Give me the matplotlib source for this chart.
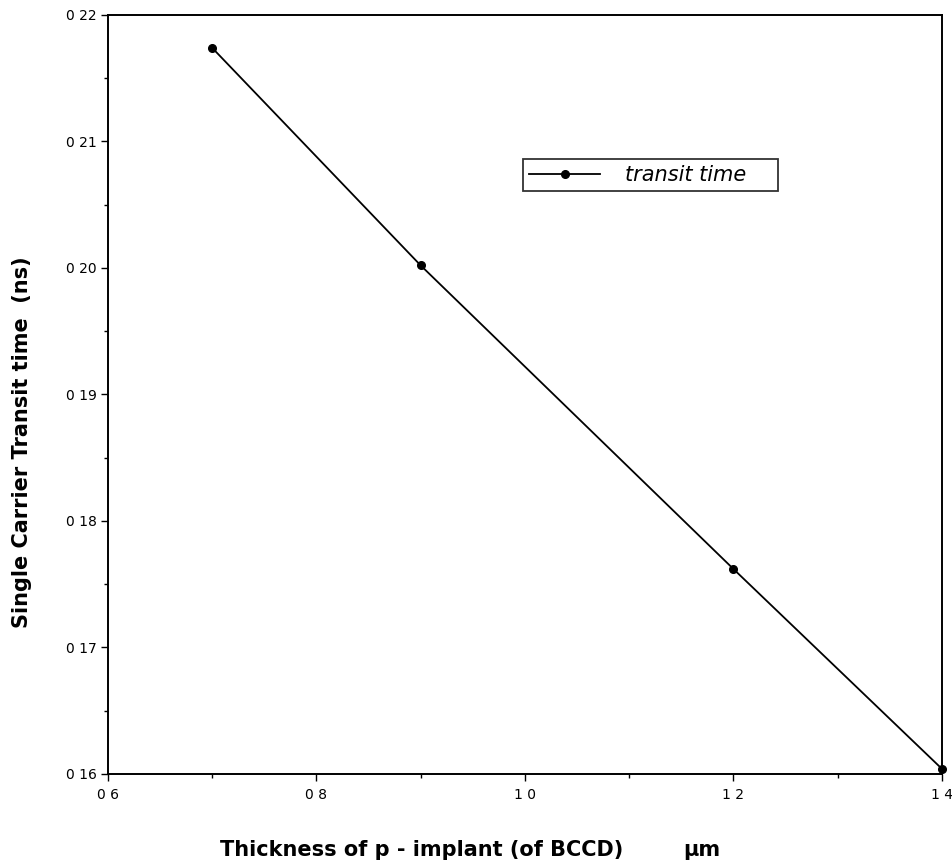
import numpy as np
import matplotlib.pyplot as plt
from matplotlib.ticker import MultipleLocator

# data
thickness = [0.7, 0.9, 1.2, 1.4]
transit = [0.2174, 0.2002, 0.1762, 0.1604]
xticks = [0.6, 0.8, 1.0, 1.2, 1.4]
xtick_labels = ['0 6', '0 8', '1 0', '1 2', '1 4']
yticks = [0.16, 0.17, 0.18, 0.19, 0.20, 0.21, 0.22]
ytick_labels = ['0 16', '0 17', '0 18', '0 19', '0 20', '0 21', '0 22']

plt.rcParams['font.family'] = ['DejaVu Sans']

fig = plt.figure(figsize=(9.52, 8.67), dpi=100)
ax = fig.add_axes([0.1134, 0.1073, 0.8761, 0.8754])

ax.plot(thickness, transit, color='black', linewidth=1.3, marker='o',
        markersize=5.5, label='transit time', clip_on=False)

ax.set_xlim(0.6, 1.4)
ax.set_ylim(0.16, 0.22)
ax.set_xticks(xticks)
ax.set_xticklabels(xtick_labels)
ax.set_yticks(yticks)
ax.set_yticklabels(ytick_labels)
ax.xaxis.set_minor_locator(MultipleLocator(0.1))
ax.yaxis.set_minor_locator(MultipleLocator(0.005))
ax.tick_params(which='both', direction='out', labelsize=10, width=1)
ax.tick_params(which='major', length=5)
ax.tick_params(which='minor', length=3)
ax.tick_params(axis='x', pad=5)
ax.tick_params(axis='y', pad=3)
for s in ax.spines.values():
    s.set_linewidth(1.4)

# legend box stretched to the frame seen in the picture
leg = ax.legend(loc='upper left', bbox_to_anchor=(0.4976, 0.7655, 0.3058, 0.0448),
                mode='expand', borderaxespad=0, frameon=True, fancybox=False,
                edgecolor='black', prop={'style': 'italic', 'size': 15},
                handlelength=3.4, handletextpad=1.2, borderpad=0.3)
leg.get_frame().set_linewidth(1.3)

fig.text(0.0231, 0.4902, 'Single Carrier Transit time  (ns)', rotation=90,
         ha='center', va='center', fontsize=15, fontweight='bold')
fig.text(0.4433, 0.0196, 'Thickness of p - implant (of BCCD)', ha='center',
         va='center', fontsize=15, fontweight='bold')
fig.text(0.7374, 0.0196, 'µm', ha='center', va='center', fontsize=15,
         fontweight='bold')

plt.savefig('out.png', dpi=100)
